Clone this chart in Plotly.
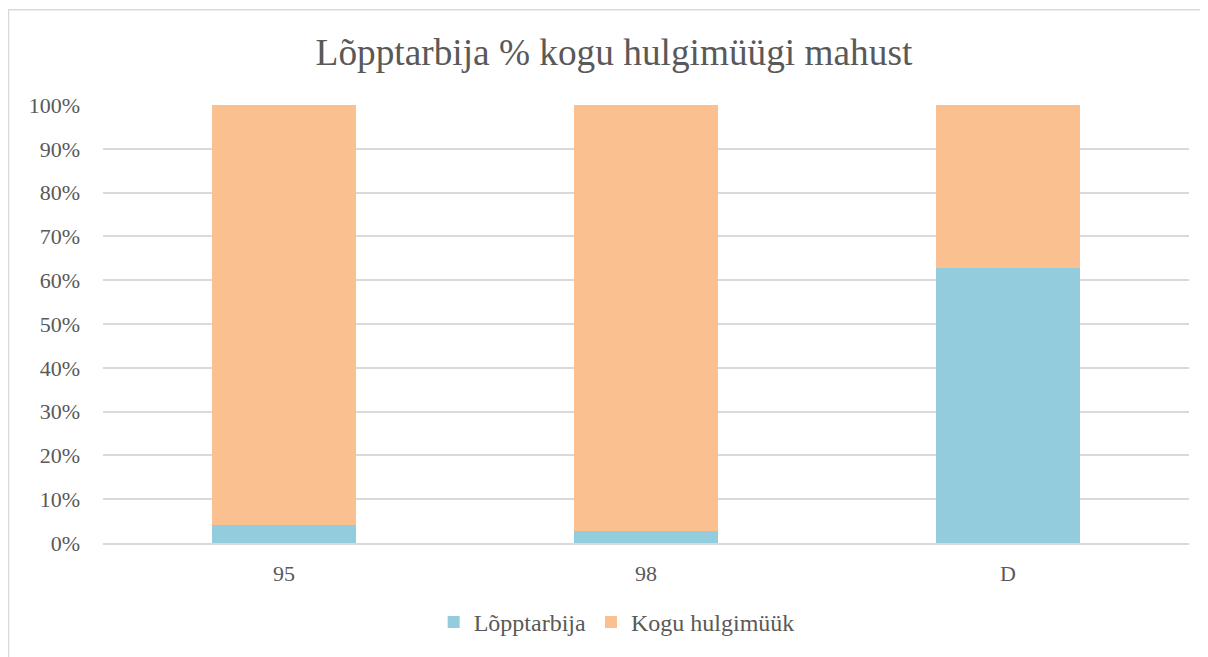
import plotly.graph_objects as go

# Data
categories = ["95", "98", "D"]
lopptarbija = [4.1, 2.7, 62.8]
hulgimyyk = [95.9, 97.3, 37.2]
y_ticks = [0, 10, 20, 30, 40, 50, 60, 70, 80, 90, 100]

FONT = "Liberation Serif, Times New Roman, serif"
TEXT = "#595959"

fig = go.Figure()
fig.add_trace(go.Bar(
    x=categories, y=lopptarbija, name="Lõpptarbija",
    marker=dict(color="#93CDDD", line=dict(width=0)),
))
fig.add_trace(go.Bar(
    x=categories, y=hulgimyyk, name="Kogu hulgimüük",
    marker=dict(color="#FAC090", line=dict(width=0)),
))

# page body has an 8px margin, so the figure is a bit smaller than the window
fig.update_layout(
    barmode="stack",
    bargap=0.6,
    width=1200,
    height=649,
    margin=dict(l=95, r=19, t=97, b=111),
    paper_bgcolor="white",
    plot_bgcolor="white",
    font=dict(family=FONT, color=TEXT, size=22),
    title=dict(
        text="Lõpptarbija % kogu hulgimüügi mahust",
        font=dict(family=FONT, size=37.3, color=TEXT),
        xref="paper", x=0.4705, xanchor="center", y=0.932, yanchor="middle",
    ),
    legend=dict(
        orientation="h", x=0.473, xanchor="center", y=-0.181, yanchor="middle",
        font=dict(size=24), traceorder="normal", itemwidth=30,
    ),
    showlegend=True,
)

fig.update_yaxes(
    range=[0, 100],
    tickvals=y_ticks,
    ticktext=[f"{v}%" for v in y_ticks],
    showgrid=True, gridcolor="#D9D9D9", gridwidth=1.5,
    zeroline=False, showline=False,
    ticklabelstandoff=22,
)
fig.update_xaxes(
    showgrid=False, showline=True, linecolor="#D9D9D9", linewidth=1.5,
    ticklabelstandoff=10,
)

# Chart area border
fig.add_shape(
    type="rect", xref="paper", yref="paper",
    x0=-0.087, x1=1.1, y0=-0.5, y1=1.2177,
    line=dict(color="#D9D9D9", width=1.5), layer="below",
)

fig.write_html("out.html")
